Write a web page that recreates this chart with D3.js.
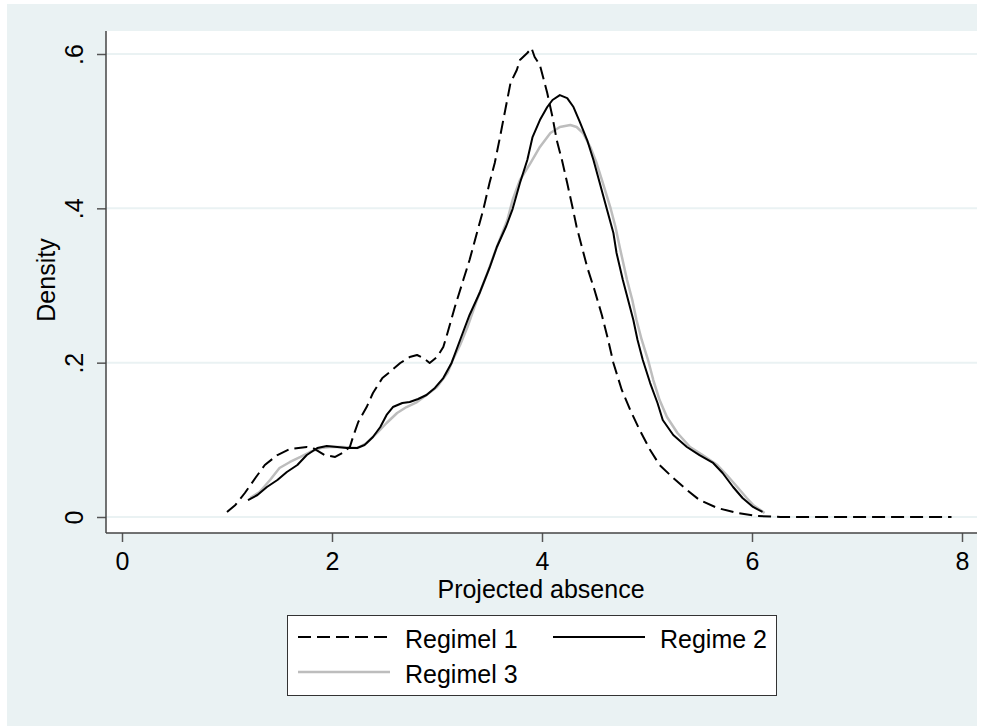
<!DOCTYPE html>
<html>
<head>
<meta charset="utf-8">
<script src="https://cdn.jsdelivr.net/npm/d3@7"></script>
<style>
  body { margin: 0; background: #ffffff; }
  svg { display: block; font-family: "Liberation Sans", Arial, sans-serif; }
</style>
</head>
<body>
<div id="chart"></div>
<script>

// kernel density curves: [projected absence, density]
var regime1 = [
  [1.00, 0.0065], [1.08, 0.0156], [1.17, 0.0311], [1.27, 0.0505], [1.36, 0.0674],
  [1.48, 0.0803], [1.60, 0.0881], [1.76, 0.0907], [1.82, 0.0894], [1.93, 0.0803],
  [2.03, 0.0778], [2.10, 0.0829], [2.17, 0.0907], [2.20, 0.1037], [2.25, 0.1231],
  [2.33, 0.1425], [2.39, 0.1607], [2.48, 0.1801], [2.55, 0.1879], [2.65, 0.1996],
  [2.74, 0.2073], [2.81, 0.2099], [2.87, 0.2060], [2.93, 0.1996], [3.00, 0.2073],
  [3.06, 0.2203], [3.10, 0.2384], [3.17, 0.2721], [3.25, 0.3071], [3.31, 0.3330],
  [3.38, 0.3680], [3.44, 0.3978], [3.50, 0.4328], [3.55, 0.4587], [3.60, 0.4924],
  [3.65, 0.5274], [3.70, 0.5624], [3.76, 0.5792], [3.79, 0.5922], [3.86, 0.6013],
  [3.90, 0.6077], [3.93, 0.5961], [3.98, 0.5857], [4.01, 0.5702], [4.05, 0.5494],
  [4.10, 0.5183], [4.14, 0.4885], [4.19, 0.4626], [4.24, 0.4328], [4.29, 0.4017],
  [4.33, 0.3758], [4.38, 0.3499], [4.43, 0.3240], [4.50, 0.2942], [4.57, 0.2618],
  [4.63, 0.2294], [4.68, 0.1996], [4.76, 0.1646], [4.84, 0.1387], [4.93, 0.1128],
  [5.03, 0.0868], [5.12, 0.0674], [5.25, 0.0505], [5.38, 0.0350], [5.50, 0.0220],
  [5.67, 0.0117], [5.86, 0.0052], [6.05, 0.0013], [6.27, 0.0], [7.90, 0.0]
];

var regime2 = [
  [1.20, 0.0220], [1.29, 0.0285], [1.38, 0.0389], [1.48, 0.0479], [1.57, 0.0583],
  [1.67, 0.0674], [1.76, 0.0803], [1.86, 0.0894], [1.95, 0.0920], [2.05, 0.0907],
  [2.14, 0.0894], [2.24, 0.0894], [2.31, 0.0933], [2.39, 0.1037], [2.46, 0.1166],
  [2.52, 0.1322], [2.58, 0.1425], [2.67, 0.1477], [2.74, 0.1490], [2.82, 0.1529],
  [2.90, 0.1581], [2.98, 0.1672], [3.06, 0.1801], [3.14, 0.2000], [3.22, 0.2294],
  [3.31, 0.2618], [3.41, 0.2916], [3.50, 0.3227], [3.57, 0.3499], [3.66, 0.3771],
  [3.72, 0.3991], [3.79, 0.4328], [3.86, 0.4626], [3.91, 0.4924], [3.98, 0.5144],
  [4.05, 0.5313], [4.10, 0.5404], [4.17, 0.5468], [4.24, 0.5429], [4.30, 0.5313],
  [4.36, 0.5119], [4.43, 0.4885], [4.49, 0.4626], [4.55, 0.4328], [4.62, 0.3978],
  [4.68, 0.3680], [4.71, 0.3421], [4.77, 0.3071], [4.82, 0.2812], [4.87, 0.2553],
  [4.91, 0.2294], [4.96, 0.2034], [5.03, 0.1736], [5.10, 0.1477], [5.15, 0.1257],
  [5.25, 0.1063], [5.38, 0.0907], [5.50, 0.0803], [5.63, 0.0700], [5.72, 0.0570],
  [5.82, 0.0389], [5.91, 0.0246], [6.01, 0.0130], [6.10, 0.0065]
];

var regime3 = [
  [1.22, 0.0246], [1.31, 0.0324], [1.41, 0.0479], [1.50, 0.0635], [1.60, 0.0713],
  [1.70, 0.0778], [1.79, 0.0842], [1.89, 0.0894], [1.98, 0.0907], [2.10, 0.0907],
  [2.24, 0.0894], [2.33, 0.0959], [2.43, 0.1089], [2.52, 0.1218], [2.62, 0.1348],
  [2.71, 0.1425], [2.81, 0.1490], [2.90, 0.1581], [3.00, 0.1685], [3.10, 0.1866],
  [3.15, 0.2034], [3.22, 0.2229], [3.29, 0.2462], [3.38, 0.2812], [3.48, 0.3162],
  [3.57, 0.3499], [3.67, 0.3849], [3.72, 0.4108], [3.79, 0.4367], [3.89, 0.4587],
  [3.98, 0.4795], [4.08, 0.4976], [4.17, 0.5054], [4.27, 0.5080], [4.33, 0.5054],
  [4.39, 0.4976], [4.46, 0.4795], [4.52, 0.4587], [4.58, 0.4328], [4.65, 0.4017],
  [4.70, 0.3758], [4.74, 0.3499], [4.81, 0.3071], [4.86, 0.2812], [4.90, 0.2553],
  [4.95, 0.2294], [5.01, 0.2034], [5.06, 0.1775], [5.12, 0.1516], [5.19, 0.1296],
  [5.29, 0.1089], [5.41, 0.0907], [5.53, 0.0803], [5.67, 0.0674], [5.76, 0.0544],
  [5.86, 0.0389], [5.95, 0.0246], [6.01, 0.0156], [6.08, 0.0091], [6.12, 0.0052]
];

var seriesNames = ["Regimel 1", "Regime 2", "Regimel 3"];

var xTicks = [0, 2, 4, 6, 8];
var yTicks = [0, 0.2, 0.4, 0.6];
var yTickLabels = ["0", ".2", ".4", ".6"];

var xTitle = "Projected absence";
var yTitle = "Density";

function createChart() {

  var width = 992, height = 726;
  var bg = "#eaf2f3";
  var fontSize = 25;

  // plot region (inner white box)
  var plot = {left: 106, top: 31, right: 977, bottom: 533};

  var x = d3.scaleLinear().domain([0, 8]).range([122, 962]);
  var y = d3.scaleLinear().domain([0, 0.6]).range([517, 54]);

  var svg = d3.select("#chart").append("svg")
      .attr("width", width)
      .attr("height", height);

  // graph region background
  svg.append("rect")
      .attr("x", 7).attr("y", 4)
      .attr("width", plot.right - 7)
      .attr("height", height - 4)
      .attr("fill", bg);

  svg.append("rect")
      .attr("x", plot.left).attr("y", plot.top)
      .attr("width", plot.right - plot.left)
      .attr("height", plot.bottom - plot.top)
      .attr("fill", "#ffffff");

  // grid lines
  svg.append("g")
    .selectAll("line")
    .data(yTicks)
    .join("line")
      .attr("x1", plot.left)
      .attr("x2", plot.right)
      .attr("y1", d => y(d))
      .attr("y2", d => y(d))
      .attr("stroke", bg)
      .attr("stroke-width", 2);

  // y axis
  var yAxis = svg.append("g")
      .attr("transform", `translate(${plot.left},0)`)
      .call(d3.axisLeft(y)
        .tickValues(yTicks)
        .tickFormat((d, i) => yTickLabels[i])
        .tickSize(9)
        .tickSizeOuter(0))
      .call(g => g.select(".domain").remove());

  yAxis.selectAll(".tick line")
      .attr("stroke", "#555")
      .attr("stroke-width", 1.5);

  yAxis.selectAll(".tick text")
      .attr("x", null).attr("dy", null)
      .attr("transform", "translate(-23,0) rotate(-90)")
      .attr("text-anchor", "middle")
      .attr("fill", "#000")
      .style("font-size", fontSize + "px")
      .style("font-family", "Liberation Sans, Arial, sans-serif");

  // x axis
  var xAxis = svg.append("g")
      .attr("transform", `translate(0,${plot.bottom})`)
      .call(d3.axisBottom(x)
        .tickValues(xTicks)
        .tickFormat(d3.format("d"))
        .tickSize(9)
        .tickSizeOuter(0))
      .call(g => g.select(".domain").remove());

  xAxis.selectAll(".tick line")
      .attr("stroke", "#555")
      .attr("stroke-width", 1.5);

  xAxis.selectAll(".tick text")
      .attr("y", 37).attr("dy", null)
      .attr("fill", "#000")
      .style("font-size", fontSize + "px")
      .style("font-family", "Liberation Sans, Arial, sans-serif");

  // axis lines
  svg.append("line")
      .attr("x1", plot.left).attr("x2", plot.left)
      .attr("y1", plot.top).attr("y2", plot.bottom)
      .attr("stroke", "#444").attr("stroke-width", 1.5);

  svg.append("line")
      .attr("x1", plot.left).attr("x2", plot.right)
      .attr("y1", plot.bottom).attr("y2", plot.bottom)
      .attr("stroke", "#444").attr("stroke-width", 1.5);

  // axis titles
  svg.append("text")
      .attr("x", 541).attr("y", 598)
      .attr("text-anchor", "middle")
      .style("font-size", fontSize + "px")
      .text(xTitle);

  svg.append("text")
      .attr("transform", "translate(55,280) rotate(-90)")
      .attr("text-anchor", "middle")
      .style("font-size", fontSize + "px")
      .text(yTitle);

  // curves
  var line = d3.line()
      .x(d => x(d[0]))
      .y(d => y(d[1]));

  var styles = [
    {stroke: "#000", width: 2, dash: "13,6"},
    {stroke: "#000", width: 2, dash: null},
    {stroke: "#bdbdbd", width: 2.5, dash: null}
  ];

  var curves = [regime1, regime2, regime3];

  // draw gray first so the black lines sit on top
  [2, 1, 0].forEach(function(i) {
    svg.append("path")
        .datum(curves[i])
        .attr("d", line)
        .attr("fill", "none")
        .attr("stroke", styles[i].stroke)
        .attr("stroke-width", styles[i].width)
        .attr("stroke-dasharray", styles[i].dash)
        .attr("stroke-linejoin", "round");
  });

  // legend
  var legend = svg.append("g");

  legend.append("rect")
      .attr("x", 287.5).attr("y", 615.5)
      .attr("width", 489).attr("height", 80)
      .attr("fill", "#fff")
      .attr("stroke", "#333")
      .attr("stroke-width", 1);

  var legendPos = [
    {x: 298, y: 637},
    {x: 553, y: 637},
    {x: 298, y: 672}
  ];

  seriesNames.forEach(function(name, i) {
    var p = legendPos[i];
    legend.append("line")
        .attr("x1", p.x).attr("x2", p.x + 92)
        .attr("y1", p.y).attr("y2", p.y)
        .attr("stroke", styles[i].stroke)
        .attr("stroke-width", styles[i].width)
        .attr("stroke-dasharray", styles[i].dash);
    legend.append("text")
        .attr("x", p.x + 107).attr("y", p.y + 11)
        .style("font-size", fontSize + "px")
        .text(name);
  });
}

function init() {
  createChart();
}

window.onload = init;
</script>
</body>
</html>
